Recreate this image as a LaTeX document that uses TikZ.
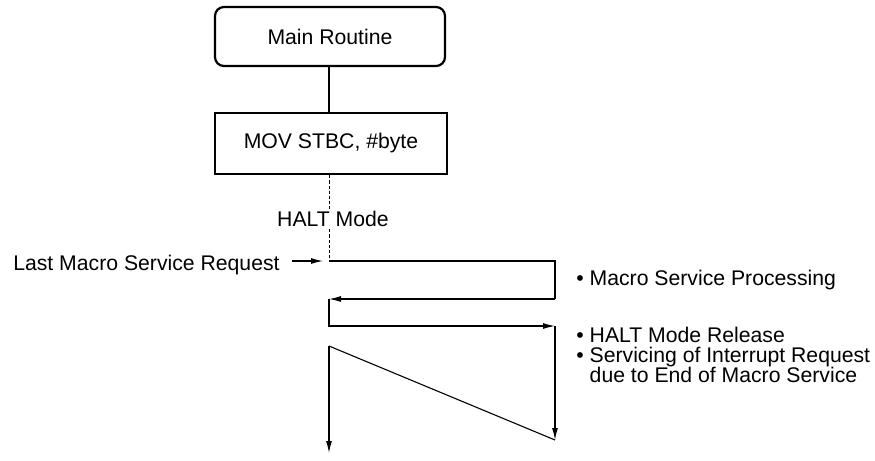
\documentclass[tikz,border=0pt]{standalone}
\usepackage{fontspec}
\setmainfont{Liberation Sans}
\usetikzlibrary{arrows.meta}

\begin{document}
\begin{tikzpicture}[
  x=0.5pt,
  y=-0.5pt,
  font=\fontsize{10.6}{10}\selectfont,
  routinebox/.style={draw,line width=1.1pt,rounded corners=4.5pt,
    minimum width=115pt,minimum height=29.5pt},
  instrbox/.style={draw,line width=1.1pt,minimum width=116pt,minimum height=30.5pt},
  flow/.style={line width=.55pt},
  halted/.style={line width=.5pt,dash pattern=on 1.6pt off 1pt},
  tip/.style={-{Latex[length=6pt,width=3pt]}},
  note/.style={align=left,anchor=north west,inner sep=0pt}
]
\useasboundingbox (0,0) rectangle (875,461);

\node[routinebox] (main) at (330,36.5) {Main Routine};
\node[instrbox] (mov) at (331,143.5) {MOV STBC, \#byte};
\node[inner sep=1pt] (halt) at (333,219) {HALT Mode};
\node[anchor=east,inner sep=0pt] (lastreq) at (280,265) {Last Macro Service Request};

% flow of the program
\coordinate (p0) at (329,261);
\coordinate (p1) at (555,261);
\coordinate (p2) at (555,299);
\coordinate (p3) at (329,299);
\coordinate (p4) at (329,326);
\coordinate (p5) at (555,326);
\coordinate (p6) at (555,440);
\coordinate (p7) at (329,346);
\coordinate (p8) at (329,453);
\coordinate (reqend) at (292,261);

\draw[flow] (main.south -| p0) -- (mov.north -| p0);
\draw[halted] (mov.south -| p0) -- (p0 |- halt.north);
\draw[halted] (p0 |- halt.south) -- (p0);
\draw[flow,tip] (reqend) -- ([xshift=-3pt]p0);

\draw[flow] (p0) -- (p1) -- (p2);
\draw[flow,tip] (p2) -- (p3);
\draw[flow,tip] (p3) -- (p4) -- (p5);
\draw[flow,tip] (p5) -- (p6);
\draw[flow] (p6) -- (p7);
\draw[flow,tip] (p7) -- (p8);

\node[note] (procnote) at (576,270) {\textbullet\ Macro Service Processing};
\node[note] (relnote) at (576,327)
  {\textbullet\ HALT Mode Release\\
   \textbullet\ Servicing of Interrupt Request\\
   \hphantom{\textbullet\ }due to End of Macro Service};
\end{tikzpicture}
\end{document}
